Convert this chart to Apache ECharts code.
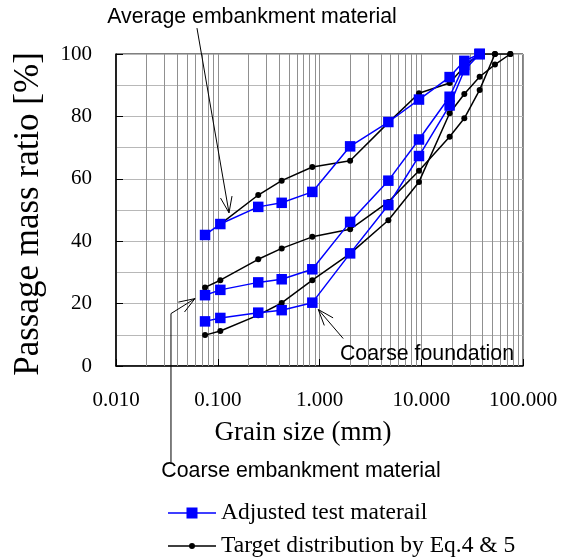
<!DOCTYPE html>
<html><head><meta charset="utf-8">
<script src="https://cdn.jsdelivr.net/npm/echarts@6/dist/echarts.min.js"></script>
<style>html,body{margin:0;padding:0;background:#fff}#c{width:562px;height:559px}</style>
</head><body><div id="c"></div>
<script>
// ---------------- data ----------------
const sieveSizes = [0.075, 0.106, 0.25, 0.425, 0.85, 2, 4.75, 9.5, 19, 26.5, 37.5, 53, 75];
const xTickLabels = ['0.010', '0.100', '1.000', '10.000', '100.000'];
const legendNames = ['Adjusted test materail', 'Target distribution by Eq.4 & 5'];

// Adjusted test material (blue)
const avgAdjusted        = [42.0, 45.5, 51.0, 52.3, 55.8, 70.4, 78.2, 85.4, 92.6, 97.8, 100, null, null];
const coarseEmbAdjusted  = [22.7, 24.4, 26.8, 27.8, 31.0, 46.2, 59.4, 72.6, 86.3, 96.5, 100, null, null];
const foundationAdjusted = [14.3, 15.4, 17.1, 17.9, 20.3, 36.1, 51.6, 67.3, 83.5, 94.8, 100, null, null];

// Target distribution by Eq.4 & 5 (black)
const avgTarget        = [null, 45.5, 54.8, 59.4, 63.8, 65.8, 78.0, 87.4, 90.7, 96.0, 100, 100, null];
const coarseEmbTarget  = [25.2, 27.5, 34.2, 37.7, 41.4, 43.8, 52.6, 62.6, 73.5, 79.4, 88.5, 100, 100];
const foundationTarget = [9.9, 11.2, 16.3, 20.2, 27.5, 36.0, 46.7, 59.0, 81.0, 87.2, 92.7, 96.6, 100];

// annotations (arrow paths in data units, last point = tip)
const annoAvgPath        = [[0.0625, 108.3], [0.129, 49.1]];
const annoCoarseEmbPath  = [[0.0347, -30.9], [0.0347, 16.8], [0.0597, 21.6]];
const annoFoundationPath = [[1.71, 8.8], [0.973, 18.1]];
const annoTexts = ['Average embankment material', 'Coarse embankment material', 'Coarse foundation'];

// minor log grid values
const decades = [0.01, 0.1, 1, 10];
const minorMult = [2, 3, 4, 5, 6, 7, 8, 9];

// ---------------- chart ----------------
const SERIF = 'Liberation Serif';
const SANS = 'Liberation Sans';
const BLUE = '#0000ff';
const minorX = [];
decades.forEach(d => minorMult.forEach(m => minorX.push(+(d * m).toPrecision(6))));

function pairs(vals) {
  return sieveSizes.map((s, i) => vals[i] == null ? null : [s, vals[i]]).filter(p => p);
}
function targetSeries(vals, extra) {
  return Object.assign({
    type: 'line', name: legendNames[1], data: pairs(vals),
    symbol: 'circle', symbolSize: 6, z: 3,
    itemStyle: { color: '#000' }, lineStyle: { color: '#000', width: 1.5 },
    emphasis: { disabled: true }
  }, extra || {});
}
function adjSeries(vals) {
  return {
    type: 'line', name: legendNames[0], data: pairs(vals),
    symbol: 'rect', symbolSize: 10.5, z: 4,
    itemStyle: { color: BLUE }, lineStyle: { color: BLUE, width: 1.5 },
    emphasis: { disabled: true }
  };
}
function legendBox(item, top) {
  return {
    data: [item], orient: 'vertical', left: 168, top: top,
    itemWidth: 48, itemHeight: 11, padding: 0,
    textStyle: { fontFamily: SERIF, fontSize: 23.5, color: '#000' },
    selectedMode: false
  };
}

const chart = echarts.init(document.getElementById('c'), null, { renderer: 'canvas' });
chart.setOption({
  animation: false,
  backgroundColor: '#fff',
  grid: { left: 116, top: 54, right: 39, bottom: 193, show: true, borderColor: '#000', borderWidth: 1, backgroundColor: 'transparent' },
  xAxis: {
    type: 'log', logBase: 10, min: 0.01, max: 100,
    axisLine: { show: true, onZero: false, lineStyle: { color: '#000', width: 1.5 } },
    axisTick: { show: true, inside: true, length: 7, lineStyle: { color: '#000' } },
    axisLabel: { formatter: v => xTickLabels[Math.round(Math.log10(v)) + 2], fontFamily: SERIF, fontSize: 21, color: '#000', margin: 24 },
    splitLine: { show: true, lineStyle: { color: '#909090', width: 1 } },
    name: 'Grain size (mm)', nameLocation: 'middle', nameGap: 53,
    nameTextStyle: { fontFamily: SERIF, fontSize: 27, color: '#000', padding: [0, 33, 0, 0] }
  },
  yAxis: {
    type: 'value', min: 0, max: 100, interval: 20,
    axisLine: { show: true, lineStyle: { color: '#000', width: 1.5 } },
    axisTick: { show: true, inside: true, length: 7, lineStyle: { color: '#000' } },
    axisLabel: { fontFamily: SERIF, fontSize: 21, color: '#000', margin: 24 },
    splitLine: { show: true, lineStyle: { color: '#b8b8b8', width: 1 } },
    minorTick: { show: false, splitNumber: 2 },
    minorSplitLine: { show: true, lineStyle: { color: '#b8b8b8', width: 1 } },
    name: 'Passage mass ratio [%]', nameLocation: 'middle', nameGap: 70, nameRotate: 90,
    nameTextStyle: { fontFamily: SERIF, fontSize: 35, color: '#000', padding: [0, 8, 0, 0] }
  },
  legend: [
    legendBox({ name: legendNames[0], icon: 'path://M0,4.75 H48 V6.25 H0 Z M18.5,0 H29.5 V11 H18.5 Z' }, 501),
    legendBox({ name: legendNames[1], icon: 'path://M0,4.75 H48 V6.25 H0 Z M27,5.5 A3,3 0 1 1 21,5.5 A3,3 0 1 1 27,5.5 Z' }, 534)
  ],
  series: [
    targetSeries(avgTarget, {
      markLine: {
        silent: true, symbol: ['none', 'none'], z: 1, animation: false,
        label: { show: false },
        lineStyle: { color: '#909090', width: 1, type: 'solid' },
        emphasis: { disabled: true },
        data: minorX.map(v => ({ xAxis: v }))
      }
    }),
    targetSeries(coarseEmbTarget),
    targetSeries(foundationTarget),
    adjSeries(avgAdjusted),
    adjSeries(coarseEmbAdjusted),
    adjSeries(foundationAdjusted)
  ]
});

// ---------------- annotations ----------------
function toPx(p) { return chart.convertToPixel({ gridIndex: 0 }, p); }
function arrow(path) {
  const pts = path.map(toPx);
  const tip = pts[pts.length - 1], prev = pts[pts.length - 2];
  const dx = tip[0] - prev[0], dy = tip[1] - prev[1];
  const len = Math.hypot(dx, dy);
  const ux = -dx / len, uy = -dy / len;
  const L = 17, a = 20 * Math.PI / 180;
  const rot = (ang) => [tip[0] + L * (ux * Math.cos(ang) - uy * Math.sin(ang)), tip[1] + L * (ux * Math.sin(ang) + uy * Math.cos(ang))];
  return [
    { type: 'polyline', z: 10, shape: { points: pts }, style: { stroke: '#000', lineWidth: 1, fill: null } },
    { type: 'polyline', z: 10, shape: { points: [rot(a), tip, rot(-a)] }, style: { stroke: '#000', lineWidth: 1, fill: null } }
  ];
}
function label(text, x, y) {
  return { type: 'text', z: 10, x: x, y: y, style: { text: text, fontFamily: SANS, fontSize: 21.3, fill: '#000', align: 'center', verticalAlign: 'middle' } };
}
chart.setOption({
  graphic: [].concat(
    arrow(annoAvgPath), arrow(annoCoarseEmbPath), arrow(annoFoundationPath),
    [label(annoTexts[0], 252, 17), label(annoTexts[1], 301, 471), label(annoTexts[2], 427, 354)]
  )
});
</script>
</body></html>
